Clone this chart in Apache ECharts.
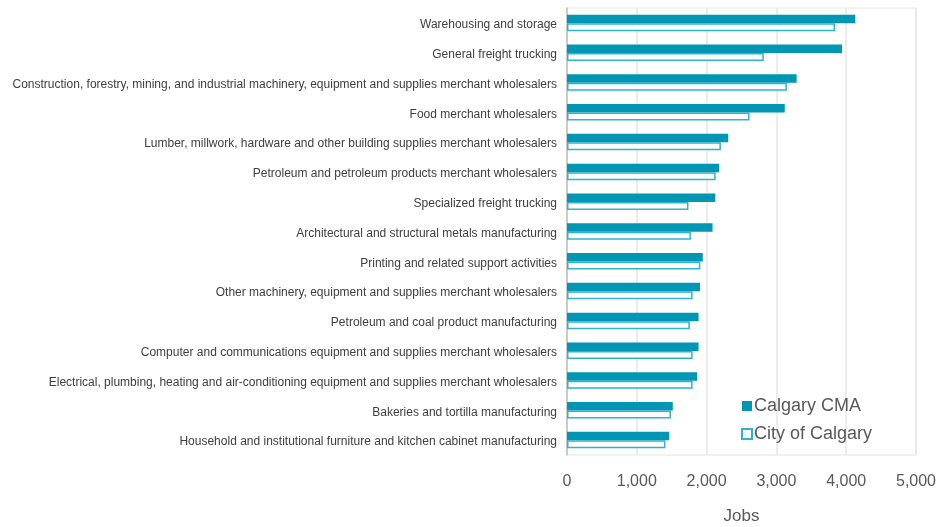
<!DOCTYPE html>
<html>
<head>
<meta charset="utf-8">
<script src="https://cdn.jsdelivr.net/npm/echarts@6/dist/echarts.min.js"></script>
<style>
  html, body { margin: 0; padding: 0; background: #fff; }
  #chart { width: 941px; height: 527px; }
</style>
</head>
<body>
<div id="chart"></div>
<script>
// Industries, listed top to bottom
const industries = [
  'Warehousing and storage',
  'General freight trucking',
  'Construction, forestry, mining, and industrial machinery, equipment and supplies merchant wholesalers',
  'Food merchant wholesalers',
  'Lumber, millwork, hardware and other building supplies merchant wholesalers',
  'Petroleum and petroleum products merchant wholesalers',
  'Specialized freight trucking',
  'Architectural and structural metals manufacturing',
  'Printing and related support activities',
  'Other machinery, equipment and supplies merchant wholesalers',
  'Petroleum and coal product manufacturing',
  'Computer and communications equipment and supplies merchant wholesalers',
  'Electrical, plumbing, heating and air-conditioning equipment and supplies merchant wholesalers',
  'Bakeries and tortilla manufacturing',
  'Household and institutional furniture and kitchen cabinet manufacturing'
];

// Jobs by industry
const calgaryCMA = [4130, 3940, 3290, 3120, 2310, 2180, 2125, 2085, 1945, 1905, 1885, 1885, 1865, 1515, 1465];
const cityOfCalgary = [3840, 2820, 3150, 2615, 2205, 2130, 1740, 1775, 1910, 1800, 1760, 1800, 1800, 1490, 1410];

const xTicks = { min: 0, max: 5000, interval: 1000 };

const chart = echarts.init(document.getElementById('chart'), null, { renderer: 'canvas' });

chart.setOption({
  animation: false,
  textStyle: { fontFamily: 'Liberation Sans, Arial, sans-serif' },
  grid: {
    left: 567, right: 25, top: 8, bottom: 72,
    outerBoundsMode: 'none',
    show: true, borderColor: '#E6E6E6', borderWidth: 1
  },
  legend: {
    orient: 'vertical',
    left: 736, top: 392,
    itemWidth: 10, itemHeight: 10, itemGap: 10,
    icon: 'rect',
    textStyle: { fontSize: 18, color: '#595959', padding: [0, 0, 0, -3] },
    data: ['Calgary CMA', 'City of Calgary']
  },
  xAxis: {
    type: 'value',
    min: xTicks.min, max: xTicks.max, interval: xTicks.interval,
    name: 'Jobs',
    nameLocation: 'middle',
    nameGap: 53,
    nameTextStyle: { fontSize: 17, color: '#595959' },
    axisLine: { show: false },
    axisTick: { show: false },
    axisLabel: {
      fontSize: 16, color: '#595959', margin: 19,
      formatter: v => v.toLocaleString('en-US')
    },
    splitLine: { lineStyle: { color: '#E6E6E6', width: 1.5 } }
  },
  yAxis: {
    type: 'category',
    inverse: true,
    data: industries,
    axisLine: { lineStyle: { color: '#BFBFBF', width: 1.5 } },
    axisTick: { show: false },
    axisLabel: {
      fontSize: 12, color: '#404040', margin: 10,
      verticalAlign: 'top', lineHeight: 4
    }
  },
  series: [
    {
      name: 'Calgary CMA',
      type: 'bar',
      data: calgaryCMA,
      barWidth: 8.5,
      barGap: '0%',
      itemStyle: { color: '#0096B4' }
    },
    {
      name: 'City of Calgary',
      type: 'bar',
      data: cityOfCalgary,
      barWidth: 8,
      barGap: '0%',
      itemStyle: { color: '#FFFFFF', borderColor: '#2FB4CF', borderWidth: 1.5 }
    }
  ]
});
</script>
</body>
</html>
